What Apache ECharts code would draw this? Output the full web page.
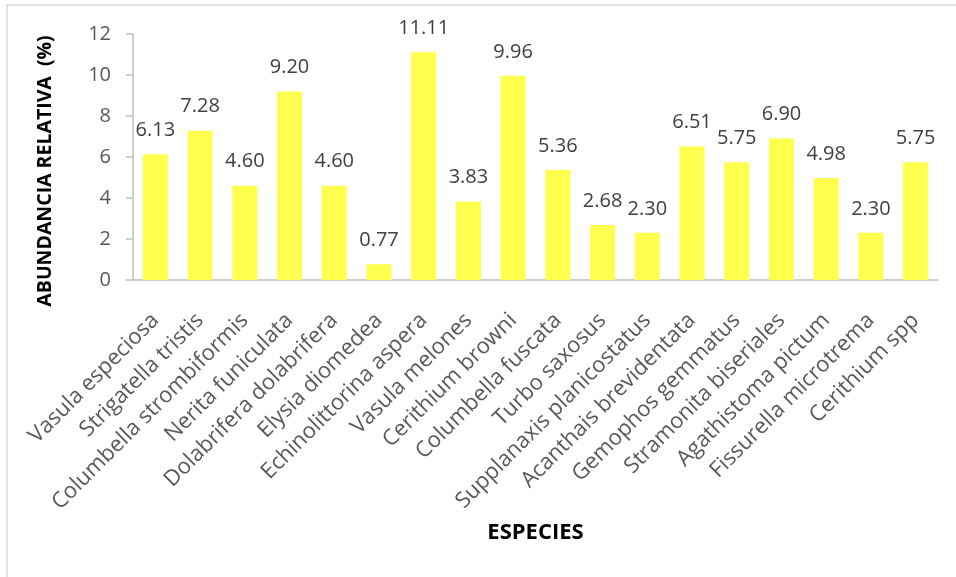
<!DOCTYPE html>
<html>
<head>
<meta charset="utf-8">
<script src="https://cdn.jsdelivr.net/npm/echarts@6/dist/echarts.min.js"></script>
<style>
  html, body { margin: 0; padding: 0; background: #fff; }
  #chart { width: 956px; height: 577px; }
</style>
</head>
<body>
<div id="chart"></div>
<script>
// Species sampled and their relative abundance (%)
const especies = [
  'Vasula especiosa', 'Strigatella tristis', 'Columbella strombiformis',
  'Nerita funiculata', 'Dolabrifera dolabrifera', 'Elysia diomedea',
  'Echinolittorina aspera', 'Vasula melones', 'Cerithium browni',
  'Columbella fuscata', 'Turbo saxosus', 'Supplanaxis planicostatus',
  'Acanthais brevidentata', 'Gemophos gemmatus', 'Stramonita biseriales',
  'Agathistoma pictum', 'Fissurella microtrema', 'Cerithium spp'
];
const abundancia = [
  6.13, 7.28, 4.60, 9.20, 4.60, 0.77, 11.11, 3.83, 9.96,
  5.36, 2.68, 2.30, 6.51, 5.75, 6.90, 4.98, 2.30, 5.75
];
const yTicks = { min: 0, max: 12, step: 2 };

const FONT = '"Open Sans", "Liberation Sans", sans-serif';
const chart = echarts.init(document.getElementById('chart'));

chart.setOption({
  animation: false,
  backgroundColor: '#ffffff',
  graphic: [{
    type: 'rect',
    shape: { x: 7, y: 5, width: 1200, height: 1000 },
    style: { fill: 'none', stroke: '#d9d9d9', lineWidth: 1.5 },
    silent: true
  }],
  grid: { left: 133, right: 18, top: 34, bottom: 297, containLabel: false },
  xAxis: {
    type: 'category',
    data: especies,
    name: 'ESPECIES',
    nameLocation: 'middle',
    nameGap: 242,
    nameTextStyle: { fontFamily: FONT, fontWeight: 'bold', fontSize: 22, color: '#000' },
    axisLine: { lineStyle: { color: '#bfbfbf', width: 1.5 } },
    axisTick: { show: false },
    axisLabel: {
      interval: 0, rotate: 45, margin: 37,
      fontFamily: FONT, fontSize: 22, color: '#595959'
    }
  },
  yAxis: {
    type: 'value',
    min: yTicks.min, max: yTicks.max, interval: yTicks.step,
    name: 'ABUNDANCIA RELATIVA  (%)',
    nameLocation: 'middle',
    nameGap: 78,
    nameRotate: 90,
    nameTextStyle: {
      fontFamily: FONT, fontWeight: 'bold', fontSize: 19.5, color: '#000',
      padding: [0, 28, 0, 0]
    },
    axisLine: { show: true, lineStyle: { color: '#bfbfbf', width: 1.5 } },
    axisTick: { show: true, length: 7, lineStyle: { color: '#bfbfbf', width: 1.5 } },
    splitLine: { show: false },
    axisLabel: { margin: 22, fontFamily: FONT, fontSize: 20, color: '#595959' }
  },
  series: [{
    type: 'bar',
    data: abundancia,
    barWidth: 25,
    itemStyle: { color: '#ffff4d' },
    label: {
      show: true, position: 'top', distance: 14,
      formatter: p => p.value.toFixed(2),
      fontFamily: FONT, fontSize: 20, color: '#404040'
    }
  }]
});
</script>
</body>
</html>
